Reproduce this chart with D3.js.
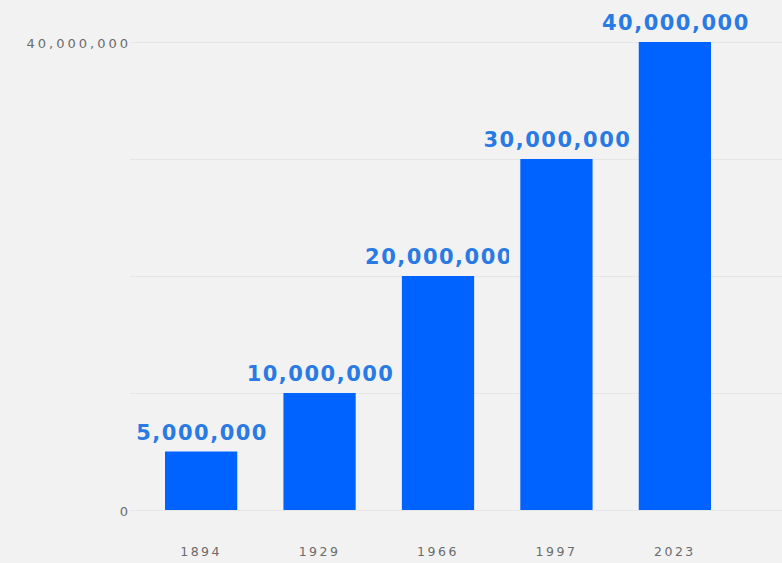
<!DOCTYPE html>
<html>
<head>
<meta charset="utf-8">
<script src="https://cdn.jsdelivr.net/npm/d3@7"></script>
<style>
  html, body { margin: 0; padding: 0; background: #f2f2f2; }
  svg { display: block; }
</style>
</head>
<body>
<svg id="chart"></svg>
<script>
const WIDTH = 782, HEIGHT = 563;

// data
const years = ["1894", "1929", "1966", "1997", "2023"];
const values = [5000000, 10000000, 20000000, 30000000, 40000000];
const gridValues = [0, 10000000, 20000000, 30000000, 40000000];
const labelledTicks = [0, 40000000];

const svg = d3.select("svg#chart")
  .attr("width", WIDTH)
  .attr("height", HEIGHT);

svg.append("rect")
  .attr("width", WIDTH)
  .attr("height", HEIGHT)
  .attr("fill", "#f2f2f2");

const x = d3.scaleBand()
  .domain(years)
  .range([165, 711])
  .paddingInner(0.39)
  .paddingOuter(0);

const y = d3.scaleLinear()
  .domain([0, 40000000])
  .range([510, 42]);

// grid lines
const yGrid = d3.axisLeft(y)
  .tickValues(gridValues)
  .tickSize(-(WIDTH - 130))
  .tickFormat("");

const gg = svg.append("g")
  .attr("transform", "translate(130,0)")
  .call(yGrid);
gg.select(".domain").remove();
gg.selectAll(".tick line")
  .attr("stroke", "#e6e6e6")
  .attr("stroke-width", 1);

// y labels (only 0 and the top)
const yAxis = d3.axisLeft(y)
  .tickValues(labelledTicks)
  .tickSize(0)
  .tickPadding(0)
  .tickFormat(d3.format(","));

const yg = svg.append("g")
  .attr("transform", "translate(131,0)")
  .call(yAxis);
yg.select(".domain").remove();
yg.selectAll(".tick text")
  .attr("fill", "#6b6b6b")
  .style("font-family", "DejaVu Sans")
  .style("font-size", "13px")
  .style("letter-spacing", "3px")
  .attr("dy", "0.4em");

// x labels
const xAxis = d3.axisBottom(x).tickSize(0).tickPadding(0);
const xg = svg.append("g")
  .attr("transform", "translate(0,547)")
  .call(xAxis);
xg.select(".domain").remove();
xg.selectAll(".tick text")
  .attr("fill", "#6b6b6b")
  .style("font-family", "DejaVu Sans")
  .style("font-size", "12.5px")
  .style("letter-spacing", "2.5px");

// bars
svg.append("g")
  .selectAll("rect.bar")
  .data(values)
  .join("rect")
    .attr("class", "bar")
    .attr("x", (d, i) => x(years[i]))
    .attr("y", d => y(d))
    .attr("width", x.bandwidth())
    .attr("height", d => y(0) - y(d))
    .attr("fill", "#0062ff");

// the 1966 label gets cut off before the next bar in the original
svg.append("clipPath")
  .attr("id", "cut1966")
  .append("rect")
    .attr("x", 0)
    .attr("y", 0)
    .attr("width", x("1966") + x.bandwidth() + 35)
    .attr("height", HEIGHT);

svg.append("g")
  .selectAll("text.value")
  .data(values)
  .join("text")
    .attr("class", "value")
    .attr("x", (d, i) => x(years[i]) + x.bandwidth() / 2 + 1)
    .attr("y", d => y(d) - 12)
    .attr("text-anchor", "middle")
    .attr("clip-path", (d, i) => years[i] === "1966" ? "url(#cut1966)" : null)
    .attr("fill", "#2a7ae4")
    .style("font-family", "DejaVu Sans")
    .style("font-weight", "bold")
    .style("font-size", "21px")
    .style("letter-spacing", "1.5px")
    .text(d => d3.format(",")(d));
</script>
</body>
</html>
